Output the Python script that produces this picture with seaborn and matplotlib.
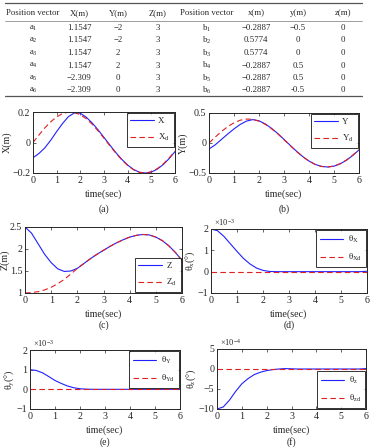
import numpy as np
import matplotlib.pyplot as plt
from matplotlib.lines import Line2D
import seaborn as sns

sns.set_style('ticks')
plt.rcParams['font.family'] = ['Liberation Serif', 'DejaVu Serif']
plt.rcParams['mathtext.fontset'] = 'custom'
plt.rcParams['mathtext.rm'] = 'Liberation Serif'
plt.rcParams['mathtext.it'] = 'Liberation Serif:italic'

# table data
tab_header = ['Position vector', 'X(m)', 'Y(m)', 'Z(m)', 'Position vector', 'x(m)', 'y(m)', 'z(m)']
a_names = ['a$_1$', 'a$_2$', 'a$_3$', 'a$_4$', 'a$_5$', 'a$_6$']
a_X = ['1.1547', '1.1547', '1.1547', '1.1547', '\u22122.309', '\u22122.309']
a_Y = ['\u22122', '\u22122', '2', '2', '0', '0']
a_Z = ['3', '3', '3', '3', '3', '3']
b_names = ['b$_1$', 'b$_2$', 'b$_3$', 'b$_4$', 'b$_5$', 'b$_6$']
b_x = ['\u22120.2887', '0.5774', '0.5774', '\u22120.2887', '\u22120.2887', '\u22120.2887']
b_y = ['\u22120.5', '0', '0', '0.5', '0.5', '-0.5']
b_z = ['0', '0', '0', '0', '0', '0']

# time samples (sec)
t = [0, 0.25, 0.5, 0.75, 1, 1.25, 1.5, 1.75, 2, 2.25, 2.5, 2.75, 3,
     3.25, 3.5, 3.75, 4, 4.25, 4.5, 4.75, 5, 5.25, 5.5, 5.75, 6]

X_d = [0, 0.049, 0.096, 0.136, 0.168, 0.190, 0.199, 0.197, 0.182, 0.156, 0.120, 0.076, 0.028,
       -0.022, -0.070, -0.114, -0.151, -0.179, -0.196, -0.200, -0.192, -0.172, -0.141, -0.102, -0.056]
X = [-0.100, -0.072, -0.035, 0.015, 0.072, 0.125, 0.170, 0.194, 0.192, 0.166, 0.128, 0.083, 0.033,
     -0.017, -0.066, -0.110, -0.148, -0.177, -0.195, -0.200, -0.194, -0.175, -0.145, -0.106, -0.060]

Y_d = [0, 0.099, 0.192, 0.273, 0.337, 0.380, 0.399, 0.394, 0.364, 0.311, 0.239, 0.153, 0.056,
       -0.043, -0.140, -0.229, -0.303, -0.358, -0.391, -0.400, -0.384, -0.344, -0.283, -0.203, -0.112]
Y = [-0.100, -0.030, 0.060, 0.150, 0.235, 0.310, 0.365, 0.390, 0.370, 0.318, 0.245, 0.158, 0.060,
     -0.040, -0.137, -0.226, -0.301, -0.357, -0.390, -0.400, -0.386, -0.347, -0.287, -0.207, -0.116]

Z_d = [1.00, 1.01, 1.03, 1.07, 1.13, 1.21, 1.31, 1.43, 1.56, 1.67, 1.78, 1.88, 1.97,
       2.06, 2.14, 2.21, 2.27, 2.31, 2.33, 2.32, 2.27, 2.19, 2.07, 1.92, 1.74]
Z = [2.50, 2.36, 2.12, 1.88, 1.69, 1.55, 1.49, 1.50, 1.56, 1.67, 1.78, 1.88, 1.97,
     2.06, 2.14, 2.21, 2.27, 2.31, 2.33, 2.32, 2.27, 2.19, 2.07, 1.92, 1.74]

# angles, in units of 1e-3 (x, y) and 1e-4 (z) degrees
thx = [2.00, 1.92, 1.65, 1.30, 0.95, 0.62, 0.36, 0.17, 0.06, 0.01, 0, 0, 0,
       0, 0, 0, 0, 0, 0, 0, 0, 0, 0, 0, 0.02]
thy = [1.00, 0.96, 0.84, 0.65, 0.45, 0.30, 0.17, 0.08, 0.03, 0.01, 0, 0, 0,
       0, 0, 0, 0, 0, 0, 0, 0, 0, 0, 0, 0]
thz = [-10.0, -9.5, -7.8, -5.6, -3.7, -2.4, -1.4, -0.8, -0.4, -0.15, 0, 0.1, 0.05,
       0, 0, 0, 0, 0, 0, 0, 0, 0, 0, 0, 0.1]
th_zero = [0] * len(t)

W, H = 372, 447
fig = plt.figure(figsize=(W / 100, H / 100), dpi=100)


def fy(y):
    return 1 - y / H


# ---- table ----
col_x = [33, 79, 118, 158, 207, 256, 298, 343]
fs_tab = 6.3
fig.add_artist(Line2D([5 / W, 362 / W], [fy(3), fy(3)], color='#555555', lw=0.9))
fig.add_artist(Line2D([5 / W, 362 / W], [fy(21), fy(21)], color='#777777', lw=0.5))
fig.add_artist(Line2D([5 / W, 362 / W], [fy(96), fy(96)], color='#555555', lw=0.9))
for cx, h in zip(col_x, tab_header):
    fig.text(cx / W, fy(13), h, ha='center', va='center', fontsize=fs_tab)
cols = [a_names, a_X, a_Y, a_Z, b_names, b_x, b_y, b_z]
row_y = [28, 40.5, 53, 65.5, 78, 90]
for cx, col in zip(col_x, cols):
    for ry, v in zip(row_y, col):
        fig.text(cx / W, fy(ry), v, ha='center', va='center', fontsize=fs_tab)


# ---- plots ----
def box(l, r, top, bot):
    return [l / W, 1 - bot / H, (r - l) / W, (bot - top) / H]


def fmt_ticks(vals):
    return [('\u2212' + f'{abs(v):g}') if v < 0 else f'{v:g}' for v in vals]


def make(pos, yact, ydes, labs, ylabel, ylim, yt, loc, cap, cap_y, mult=None):
    ax = fig.add_axes(pos)
    sns.lineplot(x=t, y=yact, ax=ax, color='#2020ff', lw=0.8, label=labs[0])
    sns.lineplot(x=t, y=ydes, ax=ax, color='#e02020', lw=0.8, ls=(0, (5, 3)), label=labs[1])
    ax.set_xlim(0, 6)
    ax.set_ylim(*ylim)
    ax.set_xticks(range(7))
    ax.set_yticks(yt)
    ax.set_yticklabels(fmt_ticks(yt))
    ax.tick_params(direction='in', labelsize=7.2, length=2.5, width=0.5, top=True, right=True, pad=2)
    for s in ax.spines.values():
        s.set_linewidth(0.7)
    ax.set_xlabel('time(sec)', fontsize=7.2, labelpad=3)
    ax.set_ylabel(ylabel, fontsize=7.2, labelpad=0)
    leg = ax.legend(loc=loc, fontsize=6.5, frameon=True, fancybox=False, edgecolor='black',
                    handlelength=2.6, handletextpad=0.5, borderpad=0.4, labelspacing=0.75,
                    borderaxespad=0.15)
    leg.get_frame().set_linewidth(0.7)
    if mult:
        ax.text(0.02, 1.02, mult, transform=ax.transAxes, fontsize=6, ha='left', va='bottom')
    fig.text(pos[0] + pos[2] / 2, fy(cap_y), cap, ha='center', va='center', fontsize=7)
    return ax


make(box(33, 175, 112, 173), X, X_d, ('X', 'X$_\\mathrm{d}$'), 'X(m)', (-0.2, 0.2),
     [-0.2, 0, 0.2], 'upper right', '(a)', 209)
make(box(209, 359, 113, 173), Y, Y_d, ('Y', 'Y$_\\mathrm{d}$'), 'Y(m)', (-0.5, 0.5),
     [-0.5, 0, 0.5], 'upper right', '(b)', 209)
make(box(25, 182, 227, 293), Z, Z_d, ('Z', 'Z$_\\mathrm{d}$'), 'Z(m)', (1, 2.5),
     [1, 1.5, 2, 2.5], 'lower right', '(c)', 325)
make(box(211, 367, 229, 293), thx, th_zero, ('θ$_\\mathrm{X}$', 'θ$_\\mathrm{Xd}$'), 'θ$_\\mathrm{x}$(°)', (-1, 2),
     [-1, 0, 1, 2], 'upper right', '(d)', 325, mult='×10$^{-3}$')
make(box(30, 180, 350, 409), thy, th_zero, ('θ$_\\mathrm{Y}$', 'θ$_\\mathrm{Yd}$'), 'θ$_\\mathrm{y}$(°)', (-1, 2),
     [-1, 0, 1, 2], 'upper right', '(e)', 442, mult='×10$^{-3}$')
make(box(217, 366, 349, 409), thz, th_zero, ('θ$_\\mathrm{z}$', 'θ$_\\mathrm{zd}$'), 'θ$_\\mathrm{z}$(°)', (-10, 5),
     [-10, -5, 0, 5], 'lower right', '(f)', 442, mult='×10$^{-4}$')

fig.savefig('out.png', dpi=100)
